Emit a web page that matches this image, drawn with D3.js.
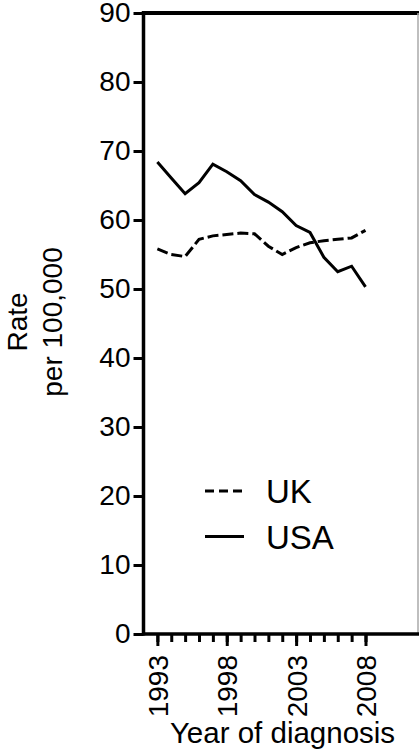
<!DOCTYPE html>
<html>
<head>
<meta charset="utf-8">
<script src="https://cdn.jsdelivr.net/npm/d3@7"></script>
<style>
	body { margin: 0; background: #fff; }
	text { font-family: Arial, "Liberation Sans", sans-serif; fill: #000; }
</style>
</head>
<body>
<script>
// data
let years = [1993, 1994, 1995, 1996, 1997, 1998, 1999, 2000, 2001, 2002, 2003, 2004, 2005, 2006, 2007, 2008];
let ukRates = [55.8, 55.0, 54.7, 57.2, 57.7, 57.9, 58.1, 58.0, 56.2, 55.0, 56.0, 56.7, 57.0, 57.2, 57.4, 58.5];
let usaRates = [68.4, 66.1, 63.8, 65.4, 68.1, 67.0, 65.7, 63.7, 62.6, 61.2, 59.2, 58.2, 54.6, 52.5, 53.3, 50.3];
let yTicks = [0, 10, 20, 30, 40, 50, 60, 70, 80, 90];
let xTicks = [1993, 1998, 2003, 2008];
let seriesNames = ["UK", "USA"];

let svgWidth = 419,
	svgHeight = 751;

let svg = d3
	.select("body")
	.append("svg")
	.attr("width", svgWidth)
	.attr("height", svgHeight);

//Scales:
let x = d3.scaleLinear().domain([1992, 2012]).range([143.5, 421]);
let y = d3.scaleLinear().domain([0, 90]).range([634, 13]);

//Frame (top + right edge)
svg.append("line")
	.attr("x1", x(1992)).attr("x2", svgWidth)
	.attr("y1", y(90)).attr("y2", y(90))
	.attr("stroke", "#000").attr("stroke-width", 4);
svg.append("line")
	.attr("x1", 418).attr("x2", 418)
	.attr("y1", y(90)).attr("y2", y(0))
	.attr("stroke", "#aaa").attr("stroke-width", 1.5);

//Y axis
let yAxis = svg.append("g")
	.attr("transform", `translate(${x(1992)},0)`)
	.call(d3.axisLeft(y).tickValues(yTicks).tickSize(10).tickPadding(3));
yAxis.select(".domain").attr("stroke-width", 3.5).attr("d", `M0,${y(0) + 1.5}V${y(90) - 2}`);
yAxis.selectAll(".tick line").attr("stroke-width", 3);
yAxis.selectAll(".tick text")
	.style("font-size", "28px")
	.attr("font-family", null);

//X axis: minor ticks each year, major every 5
let xAxis = svg.append("g")
	.attr("transform", `translate(0,${y(0)})`)
	.call(d3.axisBottom(x).tickValues(years).tickSize(8).tickFormat(""));
xAxis.select(".domain").attr("stroke-width", 3.5).attr("d", `M${x(1992) - 1.5},0H${svgWidth}`);
xAxis.selectAll(".tick line").attr("stroke-width", 3);

let xMajor = svg.append("g")
	.attr("transform", `translate(0,${y(0)})`)
	.call(d3.axisBottom(x).tickValues(xTicks).tickSize(12).tickFormat(d3.format("d")));
xMajor.select(".domain").remove();
xMajor.selectAll(".tick line").attr("stroke-width", 3);
xMajor.selectAll(".tick text")
	.style("font-size", "28px")
	.attr("font-family", null)
	.attr("text-anchor", "end")
	.attr("transform", "translate(0,21) rotate(-90)")
	.attr("x", 0)
	.attr("y", 0)
	.attr("dy", "0.36em");

//Axis titles
svg.append("text")
	.attr("x", 282.5)
	.attr("y", 743)
	.attr("text-anchor", "middle")
	.style("font-size", "29.5px")
	.text("Year of diagnosis");

let yTitle = svg.append("text")
	.attr("transform", "translate(27,322) rotate(-90)")
	.attr("text-anchor", "middle")
	.style("font-size", "28px");
yTitle.append("tspan").attr("x", 0).attr("y", 0).text("Rate");
yTitle.append("tspan").attr("x", 0).attr("y", 35).text("per 100,000");

//Lines
let line = d3.line()
	.x((d, i) => x(years[i]))
	.y(d => y(d));

svg.append("path")
	.attr("d", line(ukRates))
	.attr("fill", "none")
	.attr("stroke", "#000")
	.attr("stroke-width", 3)
	.attr("stroke-dasharray", "11,4");

svg.append("path")
	.attr("d", line(usaRates))
	.attr("fill", "none")
	.attr("stroke", "#000")
	.attr("stroke-width", 3)
	.attr("stroke-linejoin", "miter");

//Legend
let legend = svg.selectAll(".legend")
	.data(seriesNames)
	.enter()
	.append("g")
	.attr("class", "legend")
	.attr("transform", (d, i) => `translate(205,${491 + i * 45.5})`);

legend.append("line")
	.attr("x1", 0).attr("x2", 39)
	.attr("y1", 0).attr("y2", 0)
	.attr("stroke", "#000")
	.attr("stroke-width", 3)
	.attr("stroke-dasharray", d => d == "UK" ? "9,5" : null);

legend.append("text")
	.attr("x", 61)
	.attr("y", 12)
	.style("font-size", "33px")
	.text(d => d);
</script>
</body>
</html>
